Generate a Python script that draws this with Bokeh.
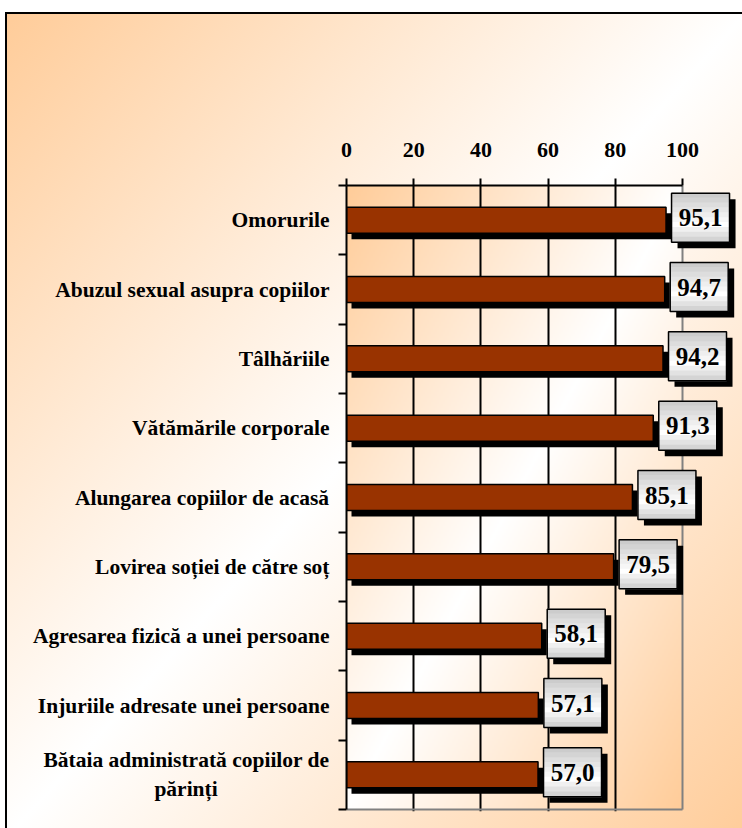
import numpy as np
from bokeh.plotting import figure
from bokeh.models import Range1d, FixedTicker, ColumnDataSource
from bokeh.embed import file_html
from bokeh.resources import INLINE
from bokeh.core.properties import value

# ---------------- data ----------------
categories = [
    "Omorurile",
    "Abuzul sexual asupra copiilor",
    "Tâlhăriile",
    "Vătămările corporale",
    "Alungarea copiilor de acasă",
    "Lovirea soției de către soț",
    "Agresarea fizică a unei persoane",
    "Injuriile adresate unei persoane",
    "Bătaia administrată copiilor de\npărinți\u2003\u2003\u2003\u2003\u2003\u2009",
]
values = [95.1, 94.7, 94.2, 91.3, 85.1, 79.5, 58.1, 57.1, 57.0]
x_ticks = [0, 20, 40, 60, 80, 100]
x_grid = [20, 40, 60, 80]
value_labels = [f"{v:.1f}".replace(".", ",") for v in values]

# ---------------- layout constants ----------------
W, H = 742, 828
LEFT, TOP, BOTTOM = 346, 185, 17
n = len(categories)
PXX = 336 / 100.0            # px per x unit
PXY = 624 / n                # px per category band
x_end = (W - LEFT) / PXX
y_start = -2 / PXY

ypos = [n - i - 0.5 for i in range(n)]
bounds_ticks = list(range(n + 1))

FONT = "Liberation Serif"

p = figure(width=W, height=H, x_range=Range1d(0, x_end), y_range=Range1d(y_start, n),
           output_backend="svg", toolbar_location=None, x_axis_location="above",
           min_border_left=LEFT, min_border_right=0, min_border_top=TOP,
           min_border_bottom=BOTTOM)
p.border_fill_color = None
p.background_fill_color = None
p.outline_line_color = None
p.styles = {
    "background": (
        "linear-gradient(#000000,#000000) 5px 12px / 2px 100% no-repeat, "
        "linear-gradient(#000000,#000000) 5px 12px / 100% 2px no-repeat, "
        "linear-gradient(to bottom right, #FFCC99 0%, #FFFFFF 50%, #FFCC99 100%) 5px 12px / 100% 100% no-repeat, "
        "#ffffff"
    )
}

# plot-area gradient
GW, GH = 168, 312
u = np.linspace(0, 1, GW)[None, :]
v = np.linspace(1, 0, GH)[:, None]
c = np.abs((u + v) / 2 - 0.5) * 2
img = np.empty((GH, GW), dtype=np.uint32)
view = img.view(dtype=np.uint8).reshape((GH, GW, 4))
view[:, :, 0] = 255
view[:, :, 1] = np.round(255 - 51 * c).astype(np.uint8)
view[:, :, 2] = np.round(255 - 102 * c).astype(np.uint8)
view[:, :, 3] = 255
p.image_rgba(image=[img], x=0, y=0, dw=100, dh=n, level="image")

# axes
xa = p.xaxis[0]
xa.ticker = FixedTicker(ticks=x_ticks)
xa.bounds = (0, 100)
xa.axis_line_color = "black"
xa.axis_line_width = 2
xa.major_tick_out = 7
xa.major_tick_in = 0
xa.major_tick_line_width = 2
xa.minor_tick_out = 0
xa.minor_tick_in = 0
xa.major_label_text_font = FONT
xa.major_label_text_font_style = "bold"
xa.major_label_text_font_size = "22px"
xa.major_label_text_color = "black"
xa.major_label_standoff = 22

ya = p.yaxis[0]
ya.ticker = FixedTicker(ticks=ypos, minor_ticks=bounds_ticks)
ya.major_label_overrides = {y: c for y, c in zip(ypos, categories)}
ya.bounds = (0, n)
ya.axis_line_color = "black"
ya.axis_line_width = 2
ya.major_tick_out = 0
ya.major_tick_in = 0
ya.minor_tick_out = 8
ya.minor_tick_in = 0
ya.minor_tick_line_width = 2
ya.minor_tick_line_color = "black"
ya.major_label_text_font = FONT
ya.major_label_text_font_style = "bold"
ya.major_label_text_font_size = "21.5px"
ya.major_label_text_color = "black"
ya.major_label_standoff = 9

p.xgrid.ticker = FixedTicker(ticks=x_grid)
p.xgrid.grid_line_color = "black"
p.xgrid.grid_line_width = 2
p.ygrid.grid_line_color = None

# plot area right/bottom border (gray)
p.segment(x0=[100, 0], y0=[0, 0], x1=[100, 100], y1=[n, 0], line_color="#808080", line_width=2)

# bars
BAR_H = 0.375
src = ColumnDataSource(dict(
    y=ypos, v=values,
    ys=[y - 6 / PXY for y in ypos],
    vs=[val + 5 / PXX for val in values],
))
p.hbar(y="ys", left=5 / PXX, right="vs", height=BAR_H, source=src,
       fill_color="black", line_color=None)
p.hbar(y="y", left=0, right="v", height=BAR_H, source=src,
       fill_color="#993300", line_color="black", line_width=1.5)

# value label boxes
BOX_W, BOX_H = 58, 49
bx = [val + (5.5 + BOX_W / 2) / PXX for val in values]
by = [y + 2.5 / PXY for y in ypos]
p.rect(x=[x + 6 / PXX for x in bx], y=[y - 6 / PXY for y in by], width=BOX_W, height=BOX_H,
       width_units="screen", height_units="screen", fill_color="black", line_color=None)

NS = 10
stops = [(0.0, 200), (0.65, 255), (1.0, 205)]
def shade(t):
    for (t0, g0), (t1, g1) in zip(stops[:-1], stops[1:]):
        if t <= t1:
            g = g0 + (g1 - g0) * (t - t0) / (t1 - t0)
            return "#%02x%02x%02x" % (int(g), int(g), int(g))
    return "#cdcdcd"
sx, sy, sc = [], [], []
for x, y in zip(bx, by):
    for k in range(NS):
        t = (k + 0.5) / NS
        off = BOX_H / 2 - BOX_H * t
        sx.append(x)
        sy.append(y + off / PXY)
        sc.append(shade(t))
p.rect(x=sx, y=sy, width=BOX_W, height=BOX_H / NS + 1, width_units="screen",
       height_units="screen", fill_color=sc, line_color=None)
p.rect(x=bx, y=by, width=BOX_W, height=BOX_H, width_units="screen", height_units="screen",
       fill_color=None, line_color="black", line_width=1.5)
p.text(x=bx, y=by, text=value_labels, text_align="center", text_baseline="middle",
       text_font=value(FONT), text_font_style="bold", text_font_size="25px", text_color="black")

open("out.html", "w").write(file_html(p, INLINE))
